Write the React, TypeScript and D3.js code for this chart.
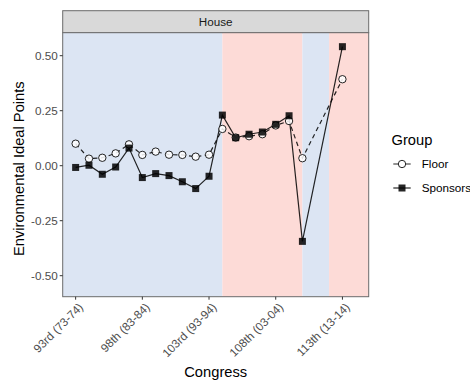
import React from "react";
import * as d3 from "d3";

const congresses = [93, 94, 95, 96, 97, 98, 99, 100, 101, 102, 103, 104, 105, 106, 107, 108, 109, 110, 113];
const floorValues = [0.10, 0.032, 0.036, 0.056, 0.097, 0.049, 0.064, 0.05, 0.049, 0.041, 0.05, 0.167, 0.128, 0.134, 0.143, 0.183, 0.203, 0.034, 0.393];
const sponsorValues = [-0.008, 0.002, -0.039, -0.006, 0.08, -0.054, -0.036, -0.045, -0.073, -0.104, -0.048, 0.23, 0.127, 0.143, 0.153, 0.188, 0.227, -0.344, 0.541];
const tickCongress = [93, 98, 103, 108, 113];
const tickLabels = ["93rd (73-74)", "98th (83-84)", "103rd (93-94)", "108th (03-04)", "113th (13-14)"];
const yTicks = [0.5, 0.25, 0, -0.25, -0.5];
const periods = [
  { start: 92, end: 104, party: "D" },
  { start: 104, end: 110, party: "R" },
  { start: 110, end: 112, party: "D" },
  { start: 112, end: 115, party: "R" },
];
const groups = ["Floor", "Sponsors"];

const W = 470, H = 381;
const P = { left: 62.7, right: 368.7, top: 32.7, bottom: 296.7, stripTop: 10.7 };
const FONT = "'Liberation Sans', Arial, Helvetica, sans-serif";

export default function App() {
  const x = d3.scaleLinear().domain([92.03, 114.97]).range([P.left, P.right]);
  const y = d3.scaleLinear().domain([-0.5955, 0.6045]).range([P.bottom, P.top]);
  const line = d3.line<[number, number]>().x(d => x(d[0])).y(d => y(d[1]));
  const floorPts: [number, number][] = congresses.map((c, i) => [c, floorValues[i]]);
  const spPts: [number, number][] = congresses.map((c, i) => [c, sponsorValues[i]]);
  const fillFor = (p: string) => (p === "D" ? "#dce5f3" : "#fddbd7");
  const ink = "rgba(0,0,0,0.85)";
  const sq = 7;

  return (
    <svg width={W} height={H} style={{ position: "absolute", left: 0, top: 0 }} fontFamily={FONT}>
      <rect x={0} y={0} width={W} height={H} fill="white" />
      {/* strip */}
      <rect x={P.left} y={P.stripTop} width={P.right - P.left} height={P.top - P.stripTop} fill="#d9d9d9" stroke="#6b6b6b" strokeWidth={1} />
      <text x={(P.left + P.right) / 2} y={(P.stripTop + P.top) / 2} dy="0.35em" textAnchor="middle" fontSize={11.7} fill="#1a1a1a">House</text>
      {/* background periods */}
      {periods.map((p, i) => (
        <rect key={i} x={x(Math.max(p.start, 92.03))} y={P.top} width={x(Math.min(p.end, 114.97)) - x(Math.max(p.start, 92.03))} height={P.bottom - P.top} fill={fillFor(p.party)} />
      ))}
      {/* lines */}
      <path d={line(floorPts) || ""} fill="none" stroke={ink} strokeWidth={1.2} strokeDasharray="4.5,3.5" />
      <path d={line(spPts) || ""} fill="none" stroke={ink} strokeWidth={1.2} />
      {/* points */}
      {floorPts.map((d, i) => (
        <circle key={"f" + i} cx={x(d[0])} cy={y(d[1])} r={3.7} fill="rgba(255,255,255,0.85)" stroke={ink} strokeWidth={1} />
      ))}
      {spPts.map((d, i) => (
        <rect key={"s" + i} x={x(d[0]) - sq / 2} y={y(d[1]) - sq / 2} width={sq} height={sq} fill={ink} />
      ))}
      {/* panel border */}
      <rect x={P.left} y={P.top} width={P.right - P.left} height={P.bottom - P.top} fill="none" stroke="#6b6b6b" strokeWidth={1} />
      {/* y axis */}
      {yTicks.map((t, i) => (
        <g key={"y" + i}>
          <line x1={P.left - 3} x2={P.left} y1={y(t)} y2={y(t)} stroke="#333" strokeWidth={1} />
          <text x={P.left - 5} y={y(t)} dy="0.35em" textAnchor="end" fontSize={11.7} fill="#4d4d4d">{t.toFixed(2)}</text>
        </g>
      ))}
      <text transform={`translate(19,${(P.top + P.bottom) / 2 + 4}) rotate(-90)`} dy="0.35em" textAnchor="middle" fontSize={14.7} fill="#000">Environmental Ideal Points</text>
      {/* x axis */}
      {tickCongress.map((c, i) => (
        <g key={"x" + i}>
          <line x1={x(c)} x2={x(c)} y1={P.bottom} y2={P.bottom + 3} stroke="#333" strokeWidth={1} />
          <text transform={`translate(${x(c) + 2},${P.bottom + 5}) rotate(-45)`} dy="0.75em" textAnchor="end" fontSize={11.7} fill="#4d4d4d">{tickLabels[i]}</text>
        </g>
      ))}
      <text x={(P.left + P.right) / 2} y={372} dy="0.35em" textAnchor="middle" fontSize={14.7} fill="#000">Congress</text>
      {/* legend */}
      <text x={391.5} y={139.5} dy="0.35em" fontSize={14.7} fill="#000">Group</text>
      {groups.map((g, i) => {
        const cy = 164 + i * 24;
        return (
          <g key={g}>
            <line x1={393.3} x2={410.7} y1={cy} y2={cy} stroke={ink} strokeWidth={1.2} strokeDasharray={i === 0 ? "5,7.4,5" : undefined} />
            {i === 0 ? (
              <circle cx={402} cy={cy} r={3.7} fill="white" stroke={ink} strokeWidth={1} />
            ) : (
              <rect x={402 - sq / 2} y={cy - sq / 2} width={sq} height={sq} fill={ink} />
            )}
            <text x={421.7} y={cy} dy="0.35em" fontSize={11.7} fill="#000">{g}</text>
          </g>
        );
      })}
    </svg>
  );
}
